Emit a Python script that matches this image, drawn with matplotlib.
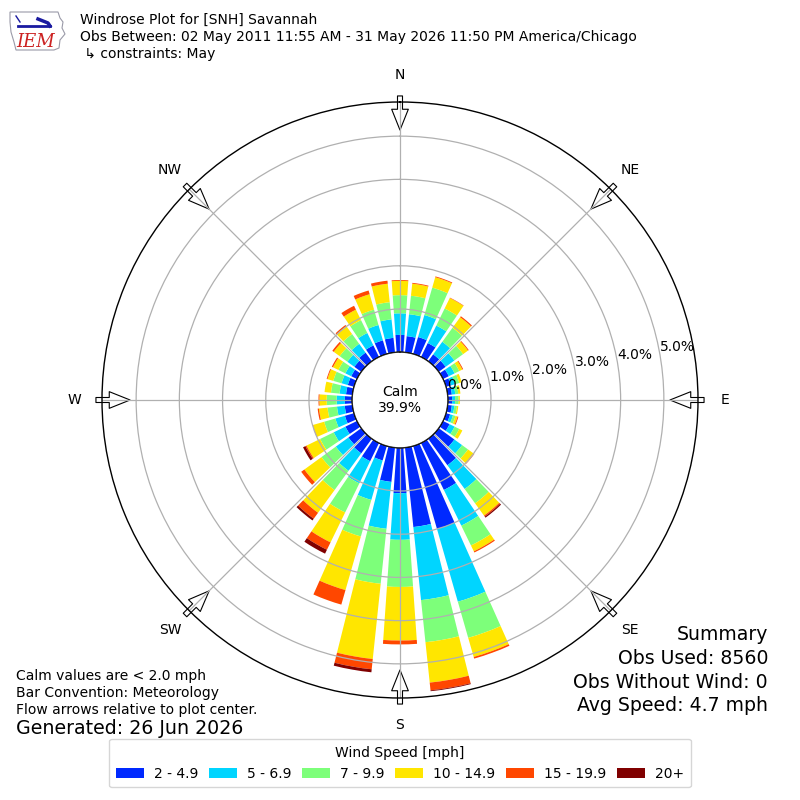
import numpy as np
import matplotlib
matplotlib.use("Agg")
import matplotlib.pyplot as plt
from matplotlib.patches import Patch, Circle, Polygon

# wind direction bins (degrees, meteorological) and speed bins
directions = np.arange(0, 360, 10)
speed_labels = ["2 - 4.9", "5 - 6.9", "7 - 9.9", "10 - 14.9", "15 - 19.9", "20+"]

# frequency [%] per direction for each speed bin
freq_2_5 = [0.40, 0.38, 0.41, 0.36, 0.20, 0.20, 0.15, 0.12, 0.10, 0.10, 0.10, 0.10,
            0.17, 0.45, 0.76, 1.21, 2.00, 1.85, 1.05, 0.80, 0.35, 0.47, 0.42, 0.37,
            0.30, 0.22, 0.18, 0.17, 0.15, 0.15, 0.15, 0.20, 0.25, 0.30, 0.33, 0.34]
freq_5_7 = [0.50, 0.51, 0.53, 0.45, 0.36, 0.25, 0.15, 0.10, 0.08, 0.07, 0.06, 0.07,
            0.13, 0.22, 0.68, 0.92, 1.75, 1.70, 1.08, 1.09, 0.95, 0.57, 0.50, 0.36,
            0.30, 0.23, 0.18, 0.19, 0.15, 0.15, 0.15, 0.20, 0.25, 0.32, 0.37, 0.43]
freq_7_10 = [0.42, 0.43, 0.66, 0.44, 0.40, 0.25, 0.12, 0.10, 0.07, 0.08, 0.06, 0.06,
             0.12, 0.17, 0.41, 0.51, 0.87, 0.98, 1.09, 1.28, 0.88, 0.75, 0.55, 0.41,
             0.35, 0.27, 0.22, 0.23, 0.20, 0.20, 0.18, 0.22, 0.28, 0.33, 0.37, 0.40]
freq_10_15 = [0.33, 0.28, 0.25, 0.27, 0.30, 0.14, 0.08, 0.06, 0.05, 0.03, 0.03, 0.05,
              0.08, 0.17, 0.35, 0.15, 0.46, 0.94, 1.24, 1.75, 1.29, 0.77, 0.65, 0.49,
              0.35, 0.27, 0.20, 0.17, 0.15, 0.14, 0.14, 0.17, 0.22, 0.27, 0.37, 0.43]
freq_15_20 = [0.02, 0.02, 0.02, 0.01, 0.03, 0.02, 0.02, 0.00, 0.00, 0.00, 0.00, 0.02,
              0.00, 0.01, 0.03, 0.03, 0.04, 0.18, 0.09, 0.24, 0.35, 0.19, 0.17, 0.09,
              0.03, 0.01, 0.03, 0.02, 0.00, 0.02, 0.03, 0.04, 0.04, 0.10, 0.09, 0.07]
freq_20p = [0.00, 0.00, 0.00, 0.00, 0.00, 0.00, 0.00, 0.00, 0.00, 0.00, 0.00, 0.00,
            0.00, 0.00, 0.03, 0.00, 0.00, 0.02, 0.00, 0.07, 0.00, 0.10, 0.05, 0.00,
            0.06, 0.00, 0.00, 0.00, 0.00, 0.00, 0.00, 0.00, 0.00, 0.00, 0.00, 0.00]

calm_pct = 39.9
rings = [0, 1, 2, 3, 4, 5]
compass = ["N", "NE", "E", "SE", "S", "SW", "W", "NW"]
summary = ["Summary", "Obs Used: 8560", "Obs Without Wind: 0", "Avg Speed: 4.7 mph"]

cmap = plt.get_cmap("jet")
colors = [cmap(i / 6.0) for i in range(1, 7)]

fig = plt.figure(figsize=(8, 8), dpi=100)
rad_px = 298.0
ax = fig.add_axes([(400 - rad_px) / 800, (400 - rad_px) / 800,
                   2 * rad_px / 800, 2 * rad_px / 800], projection="polar")
ax.set_theta_zero_location("N")
ax.set_theta_direction(-1)
rmax = 5.79
ax.set_ylim(0, rmax)
ax.set_rorigin(-1.106)

theta = np.deg2rad(directions)
width = np.deg2rad(8)
bottom = np.zeros(len(directions))
for vals, col in zip([freq_2_5, freq_5_7, freq_7_10, freq_10_15, freq_15_20, freq_20p], colors):
    vals = np.array(vals)
    ax.bar(theta, vals, width=width, bottom=bottom, color=col, linewidth=0, zorder=1)
    bottom = bottom + vals

ax.set_rgrids(rings, labels=[""] * len(rings))
ax.set_thetagrids(range(0, 360, 45), labels=[""] * 8)
ax.grid(color="#b0b0b0", linewidth=0.9)
ax.spines["polar"].set_linewidth(1.0)

# ring labels
for r in rings:
    ax.text(np.deg2rad(80), r, "%.1f%%" % r, ha="left", va="bottom", fontsize=10)

# compass labels and inward arrows
for i, lab in enumerate(compass):
    th = np.deg2rad(i * 45)
    ax.text(th, 6.42, lab, ha="center", va="center", fontsize=10)
    ax.annotate("", xy=(th, 5.14), xytext=(th, 5.93),
                arrowprops=dict(arrowstyle="simple,head_length=0.75,head_width=0.6,tail_width=0.18",
                                fc="white", ec="black", lw=0.8, shrinkA=0, shrinkB=0,
                                mutation_scale=20),
                annotation_clip=False, zorder=1)

# calm circle
ax.add_patch(Circle((0.5, 0.5), 47.8 / (2 * rad_px), transform=ax.transAxes,
                    fc="white", ec="black", lw=1.0, zorder=3))
ax.text(0.5, 0.5, "Calm\n%.1f%%" % calm_pct, transform=ax.transAxes,
        ha="center", va="center", fontsize=10, zorder=4)

# header
fig.text(0.1, 1 - 20 / 800, "Windrose Plot for [SNH] Savannah", fontsize=10, va="center")
fig.text(0.1, 1 - 37 / 800,
         "Obs Between: 02 May 2011 11:55 AM - 31 May 2026 11:50 PM America/Chicago",
         fontsize=10, va="center")
fig.text(0.1, 1 - 54 / 800, " \u21b3 constraints: May", fontsize=10, va="center")

# logo
lax = fig.add_axes([8 / 800, 1 - 52 / 800, 58 / 800, 44 / 800])
lax.set_xlim(0, 58)
lax.set_ylim(0, 44)
lax.axis("off")
iowa = [(2, 40), (50, 40), (52, 34), (55, 30), (54, 24), (57, 18), (52, 12),
        (51, 4), (46, 2), (8, 2), (6, 10), (3, 20), (2, 30)]
lax.add_patch(Polygon(iowa, closed=True, fc="white", ec="#9a9aa8", lw=0.8))
lax.plot([10, 42], [26, 26], color="#1a1aa0", lw=2)
lax.plot([30, 40, 42], [33, 29, 26], color="#1a1aa0", lw=2.5)
lax.plot([8, 12], [36, 30], color="#1a1aa0", lw=1)
lax.text(28, 10, "IEM", color="#cc2222", fontsize=13, family="DejaVu Serif",
         style="italic", ha="center", va="center")

# footer notes
notes = ["Calm values are < 2.0 mph", "Bar Convention: Meteorology",
         "Flow arrows relative to plot center."]
for i, t in enumerate(notes):
    fig.text(0.02, 1 - (676 + 17 * i) / 800, t, fontsize=10, va="center")
fig.text(0.02, 1 - 729 / 800, "Generated: 26 Jun 2026", fontsize=13.7, va="center")

for i, t in enumerate(summary):
    fig.text(0.96, 1 - (635 + 23.5 * i) / 800, t, fontsize=13.6, va="center", ha="right")

handles = [Patch(facecolor=c, edgecolor="none") for c in colors]
fig.legend(handles, speed_labels, loc="lower center", bbox_to_anchor=(0.5, 0.007),
           ncol=6, title="Wind Speed [mph]", fontsize=10, title_fontsize=10,
           handlelength=2.0, handletextpad=0.7, columnspacing=0.8,
           borderpad=0.5, fancybox=True, edgecolor="#cccccc")

fig.savefig("out.png", dpi=100)
